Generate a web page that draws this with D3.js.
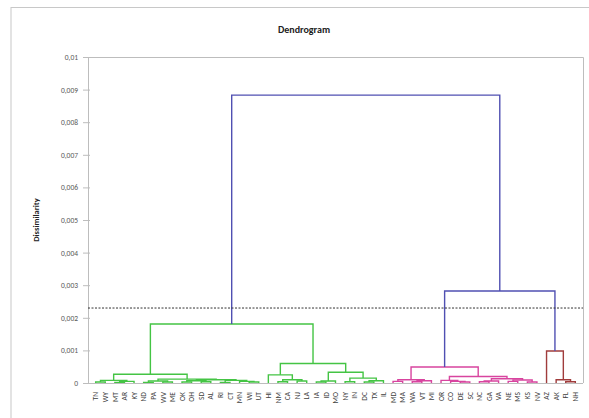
<!DOCTYPE html>
<html><head><meta charset="utf-8">
<script src="https://cdn.jsdelivr.net/npm/d3@7"></script>
<style>body{margin:0;background:#fff}svg{display:block}</style>
</head><body>
<script>
// Leaf labels in dendrogram order
const labels = ["TN","WY","MT","AR","KY","ND","PA","WV","ME","OK","OH","SD","AL","RI","CT","MN","WI","UT","HI","NM","CA","NJ","LA","IA","ID","MO","NY","IN","DC","TX","IL",
"MD","MA","WA","VT","MI","OR","CO","DE","SC","NC","GA","VA","NE","MS","KS","NV",
"AZ","AK","FL","NH"];
// Linkage: [childA, childB, dissimilarity]; merge k gets id labels.length + k
const merges = [
[0,1,0.00003],[2,3,0.00002],[52,4,0.00005],[51,53,0.00008],
[5,6,0.00002],[7,8,0.00003],[55,56,0.00006],
[9,10,0.00003],[11,12,0.00004],[58,59,0.00007],
[13,14,0.00002],[16,17,0.00003],[15,62,0.00005],[61,63,0.00008],
[60,64,0.00010],[57,65,0.00012],[54,66,0.00027],
[19,20,0.00004],[21,22,0.00006],[68,69,0.00010],[18,70,0.00025],
[23,24,0.00003],[72,25,0.00006],[26,27,0.00004],[28,29,0.00003],[75,30,0.00007],
[74,76,0.00015],[73,77,0.00033],[71,78,0.00060],[67,79,0.00181],
[31,32,0.00005],[33,34,0.00004],[82,35,0.00007],[81,83,0.00010],
[38,39,0.00003],[37,85,0.00005],[36,86,0.00008],
[40,41,0.00004],[88,42,0.00006],[43,44,0.00005],[45,46,0.00003],[90,91,0.00009],
[89,92,0.00013],[87,93,0.00020],[84,94,0.00049],
[49,50,0.00004],[48,96,0.00010],[47,97,0.00098],
[95,98,0.00282],[80,99,0.00883]
];
const cutLevel = 0.0023;
const yTicks = [0,0.001,0.002,0.003,0.004,0.005,0.006,0.007,0.008,0.009,0.01];
const clusterColors = ["#44c444","#d8449f","#a03c3c"];
const aboveColor = "#5050b2";

const W=589,H=418;
const svg=d3.select("body").append("svg").attr("width",W).attr("height",H);
const L=88,R=583,T=57,B=383;
const font="Carlito, Lato, 'Liberation Sans', sans-serif";

// outer chart border
svg.append("rect").attr("x",11).attr("y",7.5).attr("width",W).attr("height",H)
  .attr("fill","none").attr("stroke","#c8c8c8").attr("stroke-width",1);

svg.append("text").attr("x",304).attr("y",33).attr("text-anchor","middle")
  .attr("font-family",font).attr("font-weight","bold").attr("font-size",10).attr("fill","#222").text("Dendrogram");

const x=d3.scalePoint().domain(labels).range([L,R]).padding(0.8);
const y=d3.scaleLinear().domain([0,0.01]).range([B,T]);

// plot frame
svg.append("path").attr("d",`M${L},${T+0.5}H${R+0.5}V${B}`).attr("fill","none").attr("stroke","#bdbdbd");

// nodes
const n=labels.length;
const nodeX=labels.map(l=>x(l)), nodeH=labels.map(()=>0);
merges.forEach(([a,b,h])=>{nodeX.push((nodeX[a]+nodeX[b])/2);nodeH.push(h);});
// cluster color assignment
const nodeColor=new Array(n+merges.length).fill(aboveColor);
let ci=0;
function paint(id,c){nodeColor[id]=c;if(id>=n){const m=merges[id-n];paint(m[0],c);paint(m[1],c);}}
function findClusters(id){
  if(nodeH[id]<cutLevel){paint(id,clusterColors[ci++%clusterColors.length]);return;}
  const m=merges[id-n];findClusters(m[0]);findClusters(m[1]);
}
findClusters(n+merges.length-1);

const g=svg.append("g").attr("fill","none").attr("stroke-width",1.4);
merges.forEach(([a,b,h],k)=>{
  const id=n+k;
  g.append("path").attr("stroke",nodeColor[id])
   .attr("d",`M${nodeX[a]},${y(nodeH[a])}V${y(h)}H${nodeX[b]}V${y(nodeH[b])}`);
});

// y axis
const yAxis=svg.append("g").attr("transform",`translate(${L},0)`)
  .call(d3.axisLeft(y).tickValues(yTicks).tickSize(5).tickFormat(d=>d3.format("")(+d.toFixed(3)).replace(".",",")));
yAxis.select(".domain").attr("stroke","#bdbdbd");
yAxis.selectAll(".tick line").attr("stroke","#bdbdbd").attr("x2",-5).attr("x1",2);
yAxis.selectAll("text").attr("font-family",font).attr("font-size",7.5).attr("fill","#595959").attr("x",-10);

// x axis baseline
svg.append("line").attr("x1",L).attr("x2",R).attr("y1",B+0.5).attr("y2",B+0.5).attr("stroke","#bdbdbd");

// cut line
svg.append("line").attr("x1",L).attr("x2",R).attr("y1",y(cutLevel)).attr("y2",y(cutLevel))
  .attr("stroke","#333").attr("stroke-width",1).attr("stroke-dasharray","2,1.5");

// leaf labels
svg.append("g").selectAll("text").data(labels).join("text")
  .attr("transform",d=>`translate(${x(d)+2.7},392) rotate(-90)`)
  .attr("text-anchor","end").attr("font-family",font).attr("font-size",7.5).attr("fill","#404040").text(d=>d);

// y title
svg.append("text").attr("transform",`translate(39,${(T+B)/2}) rotate(-90)`).attr("text-anchor","middle")
  .attr("font-family",font).attr("font-weight","bold").attr("font-size",8.5).attr("fill","#222").text("Dissimilarity");
</script>
</body></html>
